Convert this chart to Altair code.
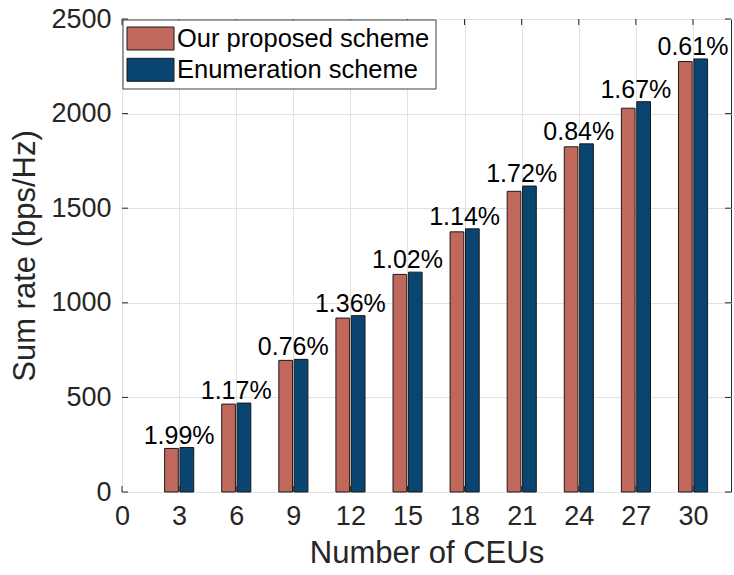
import altair as alt
import pandas as pd

# Sum rate per number of CEUs for the two schemes
ceus = [3, 6, 9, 12, 15, 18, 21, 24, 27, 30]
proposed = [230.3, 464.5, 695.7, 919.3, 1150.1, 1375.1, 1589.2, 1824.5, 2028.5, 2275.0]
enumeration = [235.0, 470.0, 701.0, 932.0, 1162.0, 1391.0, 1617.0, 1840.0, 2063.0, 2289.0]
gap_labels = ["1.99%", "1.17%", "0.76%", "1.36%", "1.02%", "1.14%", "1.72%", "0.84%", "1.67%", "0.61%"]

scheme_names = ["Our proposed scheme", "Enumeration scheme"]
scheme_colors = ["#C0685C", "#0A4470"]

x_ticks = [0, 3, 6, 9, 12, 15, 18, 21, 24, 27, 30]
y_ticks = [0, 500, 1000, 1500, 2000, 2500]

FONT = "Liberation Sans"
INK = "#262626"
W, H = 609, 473

# grouped-bar geometry in x units (left/right edge of each bar relative to its group)
BAR_EDGES = {scheme_names[0]: (-0.76, -0.04), scheme_names[1]: (0.05, 0.77)}

rows = []
for n, p, e in zip(ceus, proposed, enumeration):
    for name, val in ((scheme_names[0], p), (scheme_names[1], e)):
        lo, hi = BAR_EDGES[name]
        rows.append({"n": n, "x0": n + lo, "x1": n + hi, "rate": val, "scheme": name})
bars_df = pd.DataFrame(rows)
labels_df = pd.DataFrame({"n": ceus, "rate": enumeration, "gap": gap_labels})
xt_df = pd.DataFrame({"t": x_ticks})
yt_df = pd.DataFrame({"t": y_ticks})

x_scale = alt.Scale(domain=[0, 32], nice=False, zero=False)
y_scale = alt.Scale(domain=[0, 2500], nice=False)

x_axis = alt.Axis(values=x_ticks, format="d", title="Number of CEUs", grid=True, domain=False,
                  ticks=False, labelFontSize=27, labelPadding=11, titleFontSize=31, titlePadding=9,
                  labelFlush=False)
y_axis = alt.Axis(values=y_ticks, format="d", title="Sum rate (bps/Hz)", grid=True, domain=False,
                  ticks=False, labelFontSize=27, labelPadding=11, titleFontSize=31, titlePadding=9,
                  labelFlush=False)

bars = alt.Chart(bars_df).mark_rect(stroke="#1A1A1A", strokeWidth=1).encode(
    x=alt.X("x0:Q", scale=x_scale, axis=x_axis),
    x2="x1:Q",
    y=alt.Y("rate:Q", scale=y_scale, axis=y_axis),
    y2=alt.datum(0),
    color=alt.Color("scheme:N", scale=alt.Scale(domain=scheme_names, range=scheme_colors), legend=None),
)

gap_text = alt.Chart(labels_df).mark_text(
    font=FONT, fontSize=25, color="#000000", align="center", baseline="alphabetic", dy=-4
).encode(
    x=alt.X("n:Q", scale=x_scale),
    y=alt.Y("rate:Q", scale=y_scale),
    text="gap:N",
)

# inward tick marks on all four sides
tick_style = dict(color=INK, strokeWidth=1)
xt_bottom = alt.Chart(xt_df).mark_rule(**tick_style).encode(
    x=alt.X("t:Q", scale=x_scale), y=alt.value(H), y2=alt.value(H - 6))
xt_top = alt.Chart(xt_df).mark_rule(**tick_style).encode(
    x=alt.X("t:Q", scale=x_scale), y=alt.value(0), y2=alt.value(6))
yt_left = alt.Chart(yt_df).mark_rule(**tick_style).encode(
    y=alt.Y("t:Q", scale=y_scale), x=alt.value(0), x2=alt.value(6))
yt_right = alt.Chart(yt_df).mark_rule(**tick_style).encode(
    y=alt.Y("t:Q", scale=y_scale), x=alt.value(W), x2=alt.value(W - 6))

# legend box in the upper-left corner
leg_box = alt.Chart(pd.DataFrame({"k": [0]})).mark_rect(
    fill="white", stroke="#404040", strokeWidth=1
).encode(x=alt.value(1), x2=alt.value(314), y=alt.value(1), y2=alt.value(70))

legend_layers = [leg_box]
for i, (name, col) in enumerate(zip(scheme_names, scheme_colors)):
    top = 8 + i * 31.3
    legend_layers.append(
        alt.Chart(pd.DataFrame({"k": [0]})).mark_rect(fill=col, stroke="#1A1A1A", strokeWidth=1).encode(
            x=alt.value(5), x2=alt.value(52), y=alt.value(top), y2=alt.value(top + 23))
    )
    legend_layers.append(
        alt.Chart(pd.DataFrame({"k": [0]})).mark_text(
            font=FONT, fontSize=25.5, color="#000000", align="left", baseline="middle", text=name
        ).encode(x=alt.value(55), y=alt.value(top + 12))
    )

chart = alt.layer(
    bars, gap_text, xt_bottom, xt_top, yt_left, yt_right, *legend_layers
).properties(
    width=W, height=H,
    autosize=alt.AutoSizeParams(type="none"),
    padding={"left": 122, "top": 19, "right": 3, "bottom": 83},
    background="white",
).configure_view(
    stroke=INK, strokeWidth=1
).configure_axis(
    labelFont=FONT, titleFont=FONT, labelColor=INK, titleColor=INK,
    titleFontWeight="normal", gridColor="#E1E1E1", gridWidth=1,
)

chart.save("out.html", embed_options={"renderer": "svg", "actions": False})
